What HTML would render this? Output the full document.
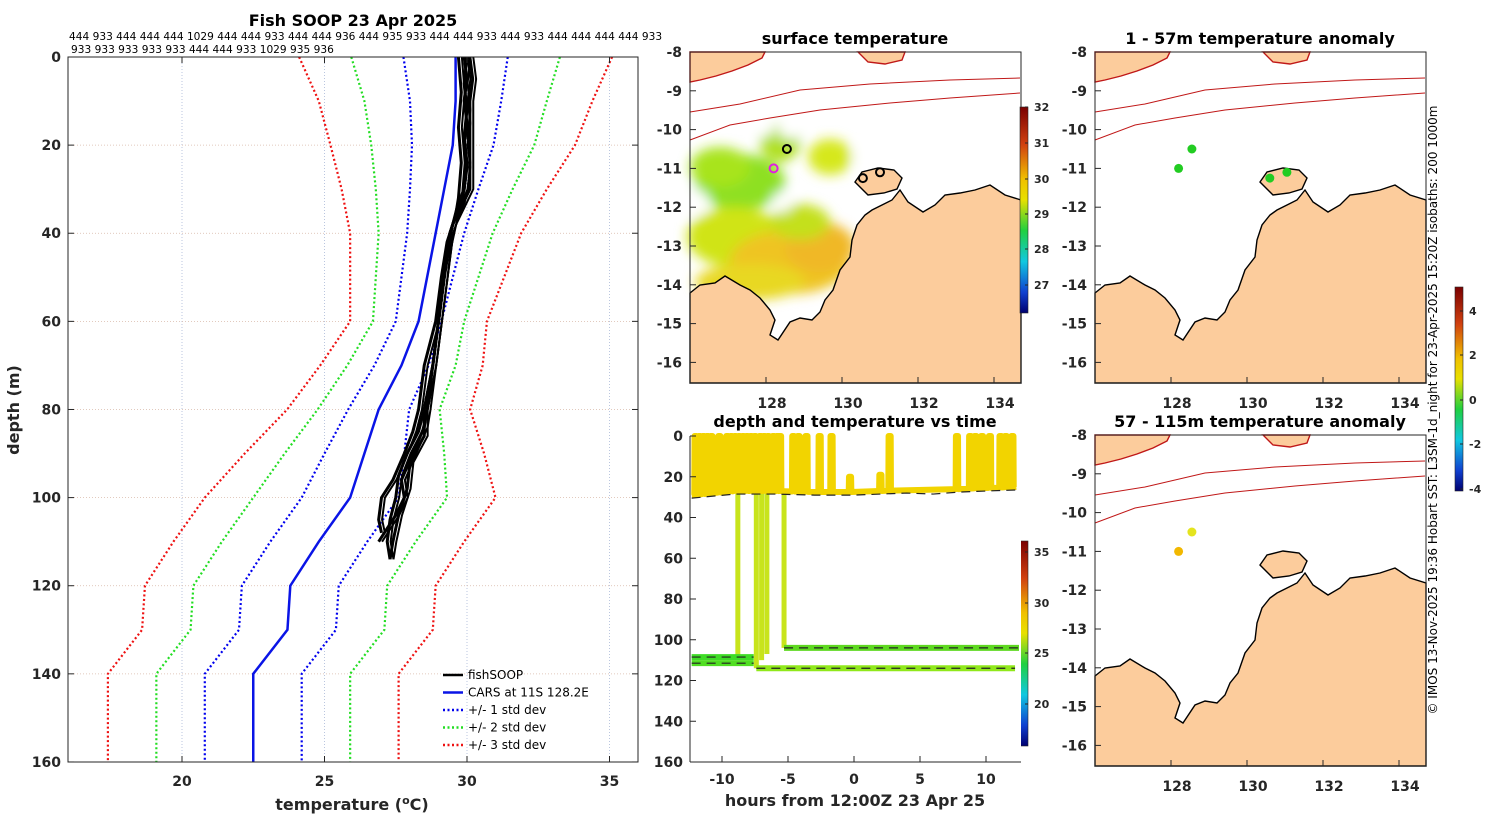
<!DOCTYPE html>
<html><head><meta charset="utf-8">
<style>
html,body{margin:0;padding:0;background:#fff;}
svg{display:block;font-family:"DejaVu Sans","Liberation Sans",sans-serif;}
.tk{font-size:14px;font-weight:bold;fill:#262626;}
.ttl{font-size:16px;font-weight:bold;fill:#000;}
.sm{font-size:11px;fill:#262626;}
</style></head>
<body>
<svg id="s" width="1500" height="820" viewBox="0 0 1500 820" xmlns="http://www.w3.org/2000/svg">
<defs>
<linearGradient id="jet" x1="0" y1="0" x2="0" y2="1">
<stop offset="0" stop-color="#7a0000"/><stop offset="0.18" stop-color="#d04010"/>
<stop offset="0.35" stop-color="#f0c000"/><stop offset="0.45" stop-color="#e8e000"/>
<stop offset="0.6" stop-color="#20d040"/><stop offset="0.75" stop-color="#10c8e0"/>
<stop offset="0.9" stop-color="#1040d0"/><stop offset="1" stop-color="#000070"/>
</linearGradient>
<filter id="bl"><feGaussianBlur stdDeviation="6"/></filter>
</defs>
<g id="root"></g>
</svg>
<script>
// ---------- Profile chart data ----------
const carsDepths=[0,10,20,30,40,50,60,70,80,90,100,110,120,130,140,150,160];
const carsMean=[29.6,29.6,29.5,29.2,28.9,28.6,28.3,27.7,26.9,26.4,25.9,24.8,23.8,23.7,22.5,22.5,22.5];
const carsStd=[1.83,1.6,1.43,1.2,1.0,0.9,0.8,0.95,1.07,1.4,1.7,1.7,1.7,1.7,1.7,1.7,1.7];
const profDepthsA=[0,5,10,15,20,25,30,33,36,40,50,60,70,80,85,90,95,100,105,110,114];
const profTempA=[29.9,30.0,29.9,30.0,29.9,30.0,29.9,29.8,29.6,29.4,29.2,29.0,28.8,28.5,28.3,27.9,27.6,27.5,27.3,27.2,27.3];
const profDepthsB=[0,5,10,20,30,34,38,42,50,60,70,75,80,85,90,96,100,105,108];
const profTempB=[30.1,30.2,30.1,30.1,30.1,29.8,29.5,29.3,29.1,28.9,28.5,28.4,28.3,28.1,27.8,27.4,27.0,26.9,27.0];
const profDepthsC=[0,8,16,24,32,36,40,50,60,70,80,84,90,96,100,104,110];
const profTempC=[29.7,29.8,29.7,29.8,29.7,29.6,29.4,29.2,29.0,28.8,28.6,28.5,28.1,27.7,27.8,27.5,26.9];
const profDepthsD=[0,6,12,18,24,30,33,38,44,50,60,70,80,86,92,98,104,110,114];
const profTempD=[30.0,29.9,30.0,29.9,30.0,29.9,29.7,29.5,29.3,29.2,29.0,28.8,28.5,28.5,28.0,27.9,27.6,27.4,27.3];
const tempTicks=[20,25,30,35];
const depthTicks=[0,20,40,60,80,100,120,140,160];
// ---------- depth-time data ----------
const spikeHours=[-12.0,-11.7,-11.4,-11.1,-10.8,-10.2,-9.6,-9.3,-9.0,-8.7,-8.4,-8.1,-7.8,-7.5,-7.1,-6.8,-6.5,-6.1,-5.8,-5.6,-4.6,-4.2,-3.6,-2.6,-1.7,-0.3,2.0,2.7,7.8,8.8,9.2,9.7,10.3,11.1,11.5,12.0];
const spikeTops=[0,0,0,0,0,0,0,0,0,0,0,0,0,0,0,0,0,0,0,0,0,0,0,0,0,20,19,0,0,0,0,0,0,0,0,0];
const baseHours=[-12.3,-9,-6,-3,0,2,4,6,8,10,12.3];
const baseDepths=[29,27,27,27.5,27.5,27,26.5,27,26,25.5,25];
const castHours=[-8.8,-7.4,-7.0,-6.6,-5.3];
const castBottoms=[108,114,110,107,104];
const deepStart=[-12.3,-12.3,-7.4,-5.3];
const deepEnd=[-7.6,-7.6,12.2,12.5];
const deepDepth=[108.5,111.5,114,104];
const deepColor=["#3edc26","#50de22","#90e81a","#5ed820"];
const hourTicks=[-10,-5,0,5,10];
const tdDepthTicks=[0,20,40,60,80,100,120,140,160];
// ---------- map data ----------
const lonTicks=[128,130,132,134];
const latTicks=[-8,-9,-10,-11,-12,-13,-14,-15,-16];
const sstCircleLon=[128.55,130.55,131.0];
const sstCircleLat=[-10.5,-11.25,-11.1];
const anomLon1=[128.2,128.55,130.6,131.05];
const anomLat1=[-11.0,-10.5,-11.25,-11.1];
const anomVal1=[0.2,0.1,0.3,0.2];
const anomLon2=[128.2,128.55];
const anomLat2=[-11.0,-10.5];
const anomVal2=[1.8,1.2];

const NS="http://www.w3.org/2000/svg";
const root=document.getElementById('root');
function el(tag,attrs,parent){const e=document.createElementNS(NS,tag);for(const k in attrs)e.setAttribute(k,attrs[k]);(parent||root).appendChild(e);return e;}
function txt(x,y,s,cls,anchor,parent){const t=el('text',{x:x,y:y,class:cls,'text-anchor':anchor||'middle'},parent);t.textContent=s;return t;}

// ===== Left profile chart =====
const xT=t=>68+(t-16)*28.5;
const yD=d=>57+d*4.406;
const gL=el('g',{});


tempTicks.forEach(t=>{const l=el('line',{x1:xT(t),x2:xT(t),y1:57,y2:762,stroke:'#aab8d8','stroke-width':0.8,'stroke-dasharray':'1,2'},gL);
});
depthTicks.forEach(d=>{const l=el('line',{x1:68,x2:638,y1:yD(d),y2:yD(d),stroke:'#d8b8a8','stroke-width':0.8,'stroke-dasharray':'1,2'},gL);
});
function poly(xs,ys,fx,fy,attrs,name,parent){const p=el('polyline',Object.assign({points:xs.map((v,i)=>fx(v)+','+fy(ys[i])).join(' '),fill:'none'},attrs),parent);
return p;}
const stdCol={1:'#0000ee',2:'#22dd22',3:'#ee1111'};
[3,2,1].forEach(k=>{[-1,1].forEach(sg=>{
 poly(carsMean.map((m,i)=>m+sg*k*carsStd[i]),carsDepths,xT,yD,{stroke:stdCol[k],'stroke-width':2.2,'stroke-dasharray':'2,2.5'},'std-'+k+(sg<0?'-minus':'-plus'),gL);
});});
poly(carsMean,carsDepths,xT,yD,{stroke:'#0a14e6','stroke-width':2.5},'cars-mean-line',gL);
[[profTempA,profDepthsA],[profTempB,profDepthsB],[profTempC,profDepthsC],[profTempD,profDepthsD]].forEach((p,i)=>{
 poly(p[0],p[1],xT,yD,{stroke:'#000','stroke-width':3},'fishsoop-profile-'+(i+1),gL);
 poly(p[0].map(v=>v+0.12),p[1],xT,yD,{stroke:'#000','stroke-width':2},'fishsoop-profile-'+(i+1)+'-b',gL);
});
const bxL=el('rect',{x:68,y:57,width:570,height:705,fill:'none',stroke:'#262626','stroke-width':1},gL);

tempTicks.forEach(t=>{el('line',{x1:xT(t),x2:xT(t),y1:762,y2:756,stroke:'#262626'},gL);el('line',{x1:xT(t),x2:xT(t),y1:57,y2:63,stroke:'#262626'},gL);
 const tt=txt(xT(t),786,String(t),'tk','middle',gL);});
depthTicks.forEach(d=>{el('line',{x1:68,x2:74,y1:yD(d),y2:yD(d),stroke:'#262626'},gL);el('line',{x1:632,x2:638,y1:yD(d),y2:yD(d),stroke:'#262626'},gL);
 const tt=txt(61,yD(d)+5,String(d),'tk','end',gL);});
</script>
<script>
(function(){
const t1=txt(353,26,'Fish SOOP 23 Apr 2025','ttl');
const h1=txt(69,40,'444 933 444 444 444 1029 444 444 933 444 444 936 444 935 933 444 444 933 444 933 444 444 444 444 933','sm','start');
h1.setAttribute('style','font-size:10.6px;fill:#000');
const h2=txt(71,53,'933 933 933 933 933 444 444 933 1029 935 936','sm','start');
h2.setAttribute('style','font-size:10.6px;fill:#000');
const xl=el('text',{x:352,y:810,class:'tk','text-anchor':'middle',style:'font-size:16px'});xl.innerHTML='temperature (<tspan font-size="11" dy="-6">o</tspan><tspan dy="6">C)</tspan>';

const yl=txt(0,0,'depth (m)','tk');yl.setAttribute('transform','translate(19,410) rotate(-90)');yl.setAttribute('style','font-size:16px');

const lg=el('g',{});
const items=[['fishSOOP','#000',''],['CARS at 11S 128.2E','#0a14e6',''],['+/- 1 std dev','#0000ee','2,2.5'],['+/- 2 std dev','#22dd22','2,2.5'],['+/- 3 std dev','#ee1111','2,2.5']];
items.forEach((it,i)=>{const y=675+i*17.5;const g=el('g',{},lg);
 el('line',{x1:443,x2:463,y1:y,y2:y,stroke:it[1],'stroke-width':2.5,'stroke-dasharray':it[2]||'none'},g);
 const t=txt(468,y+4,it[0],'sm','start',g);t.setAttribute('style','font-size:12px;fill:#000');});
})();
</script>
<script>
// ===== Maps =====
const mX=(lon,ox)=>ox+(lon-126)*38;
const mY=(lat,oy)=>oy+(-8-lat)*38.8;
const land='M0,241 L10,233 25,231 35,224 50,233 60,238 70,246 80,258 85,268 80,283 88,288 100,270 110,266 122,268 130,260 135,248 143,238 150,218 160,205 162,188 167,173 175,163 182,158 192,153 202,148 210,138 218,150 233,160 245,153 255,143 270,141 285,138 300,133 315,143 331,148 331,331 0,331 Z';
const tiwi='M165,130 L172,120 188,116 204,118 212,126 207,137 194,141 178,143 Z';
const timor='M0,0 L75,0 72,6 58,13 42,19 26,24 10,28 0,30 Z';
const isl='M168,0 L215,0 212,8 195,12 178,10 Z';
function drawMap(ox,oy,name,withSST,title){
 const g=el('g',{});
 el('rect',{x:ox,y:oy,width:331,height:331,fill:'#fff'},g);
 if(withSST){
  const sg=el('g',{filter:'url(#bl)'},g);
  [[50,130,45,28,'#8ee024'],[30,115,30,20,'#a8e41e'],[140,105,22,18,'#d6e81a'],[45,185,48,30,'#d0e418'],[100,210,60,32,'#efc424'],[130,195,35,25,'#f0b828'],[60,230,55,18,'#e8d820'],[110,170,30,18,'#c4e01c'],[90,90,20,20,'#b0e020']].forEach(b=>{
   el('ellipse',{cx:ox+b[0],cy:oy+b[1],rx:b[2],ry:b[3],fill:b[4]},sg);});
  [[75,60,12,25],[5,150,14,12],[100,75,12,12],[175,105,12,10],[92,150,10,10],[200,35,20,14]].forEach(b=>{el('ellipse',{cx:ox+b[0],cy:oy+b[1],rx:b[2],ry:b[3],fill:'#fff'},sg);});
 }
 const cp=el('path',{d:'M'+ox+','+(oy+88)+' l40,-15 40,-7 50,-8 70,-7 60,-5 70,-5',fill:'none',stroke:'#c01818','stroke-width':1},g);
 
 const cp2=el('path',{d:'M'+ox+','+(oy+60)+' l50,-8 60,-14 70,-6 80,-4 70,-2',fill:'none',stroke:'#c01818','stroke-width':1},g);
 
 [land,tiwi,timor,isl].forEach((d,i)=>{const p=el('path',{d:d,transform:'translate('+ox+','+oy+')',fill:'#fccc9c',stroke:i==2||i==3?'#c01818':'#000','stroke-width':1.4},g);
  });
 el('rect',{x:ox,y:oy,width:331,height:331,fill:'none',stroke:'#262626'},g);
 lonTicks.forEach(l=>{el('line',{x1:mX(l,ox),x2:mX(l,ox),y1:oy+331,y2:oy+325,stroke:'#262626'},g);
  const t=txt(mX(l,ox)+6,oy+356,String(l),'tk','middle',g);});
 latTicks.forEach(l=>{const y=mY(l,oy);el('line',{x1:ox,x2:ox+6,y1:y,y2:y,stroke:'#262626'},g);
  const t=txt(ox-8,y+5,String(l),'tk','end',g);});
 const tt=txt(ox+165,oy-8,title,'ttl','middle',g);
 return g;
}
const m1=drawMap(690,52,'surface-temperature-map',true,'surface temperature');
sstCircleLon.forEach((lo,i)=>{const c=el('circle',{cx:mX(lo,690),cy:mY(sstCircleLat[i],52),r:4,fill:'none',stroke:'#000','stroke-width':2},m1);
 });
const mc=el('circle',{cx:mX(128.2,690),cy:mY(-11.0,52),r:4,fill:'none',stroke:'#e020e0','stroke-width':2},m1);

function anomColor(v){return v>1.5?'#f2b800':v>0.8?'#e4e41e':'#22cc22';}
const m2=drawMap(1095,52,'anomaly-1-57m-map',false,'1 - 57m temperature anomaly');
anomLon1.forEach((lo,i)=>{const c=el('circle',{cx:mX(lo,1095),cy:mY(anomLat1[i],52),r:4.5,fill:anomColor(anomVal1[i])},m2);
 });
const m3=drawMap(1095,435,'anomaly-57-115m-map',false,'57 - 115m temperature anomaly');
anomLon2.forEach((lo,i)=>{const c=el('circle',{cx:mX(lo,1095),cy:mY(anomLat2[i],435),r:4.5,fill:anomColor(anomVal2[i])},m3);
 });
function cbar(x,y,h,labels,ys,name){const g=el('g',{});
 el('rect',{x:x,y:y,width:8,height:h,fill:'url(#jet)',stroke:'#262626','stroke-width':0.6},g);
 labels.forEach((l,i)=>{el('line',{x1:x+8,x2:x+5,y1:ys[i],y2:ys[i],stroke:'#262626'},g);const t=txt(x+14,ys[i]+4,l,'sm','start',g);t.setAttribute('style','font-size:11px;font-weight:bold;fill:#262626');});}
cbar(1020,107,206,['32','31','30','29','28','27'],[107,143,179,214,249,285],'sst-colorbar');
cbar(1455,287,204,['4','2','0','-2','-4'],[311,355,400,444,489],'anomaly-colorbar');
cbar(1020,541,205,['35','30','25','20'],[552,603,653,704],'td-colorbar');
const rt=txt(0,0,'© IMOS 13-Nov-2025 19:36 Hobart SST: L3SM-1d_night for 23-Apr-2025 15:20Z isobaths: 200  1000m','sm','middle');
rt.setAttribute('transform','translate(1437,410) rotate(-90)');rt.setAttribute('style','font-size:12px;fill:#000');

</script>
<script>
// ===== depth-time chart =====
const xH=h=>854+h*13.2;
const yZ=d=>436+d*2.0375;
function baseAt(h){for(let i=1;i<baseHours.length;i++){if(h<=baseHours[i]){const f=(h-baseHours[i-1])/(baseHours[i]-baseHours[i-1]);return baseDepths[i-1]+f*(baseDepths[i]-baseDepths[i-1]);}}return baseDepths[baseDepths.length-1];}
const gT=el('g',{});
el('rect',{x:690,y:436,width:331,height:326,fill:'#fff'},gT);
castHours.forEach((h,i)=>{const l=el('line',{x1:xH(h),x2:xH(h),y1:yZ(baseAt(h)),y2:yZ(castBottoms[i]),stroke:'#c8e41c','stroke-width':5},gT);
 });
deepStart.forEach((s,i)=>{const l=el('line',{x1:xH(s),x2:xH(deepEnd[i]),y1:yZ(deepDepth[i]),y2:yZ(deepDepth[i]),stroke:deepColor[i],'stroke-width':6},gT);
 
 const d=el('line',{x1:xH(s),x2:xH(deepEnd[i]),y1:yZ(deepDepth[i]),y2:yZ(deepDepth[i]),stroke:'#222','stroke-width':1.2,'stroke-dasharray':'9,6'},gT);
 });
let pts=[[xH(baseHours[0]),yZ(baseDepths[0])]];
spikeHours.forEach((h,i)=>{pts.push([xH(h-0.1),yZ(baseAt(h))]);pts.push([xH(h-0.08),yZ(spikeTops[i])]);pts.push([xH(h+0.08),yZ(spikeTops[i])]);pts.push([xH(h+0.1),yZ(baseAt(h))]);});
pts.push([xH(baseHours[baseHours.length-1]),yZ(baseDepths[baseDepths.length-1])]);
const st=el('polyline',{points:pts.map(p=>p.join(',')).join(' '),fill:'none',stroke:'#f2d400','stroke-width':6,'stroke-linejoin':'round'},gT);

const bd=el('polyline',{points:baseHours.map((h,i)=>xH(h)+','+yZ(baseDepths[i]+1.5)).join(' '),fill:'none',stroke:'#222','stroke-width':1.2,'stroke-dasharray':'9,6'},gT);

el('line',{x1:690,x2:690,y1:436,y2:762,stroke:'#262626'},gT);
el('line',{x1:690,x2:1021,y1:762,y2:762,stroke:'#262626'},gT);
hourTicks.forEach(h=>{el('line',{x1:xH(h),x2:xH(h),y1:762,y2:756,stroke:'#262626'},gT);
 const t=txt(xH(h),784,String(h),'tk','middle',gT);});
tdDepthTicks.forEach(d=>{el('line',{x1:690,x2:696,y1:yZ(d),y2:yZ(d),stroke:'#262626'},gT);
 const t=txt(683,yZ(d)+5,String(d),'tk','end',gT);});
const tt=txt(855,427,'depth and temperature vs time','ttl','middle',gT);
const xl=txt(855,806,'hours from 12:00Z 23 Apr 25','tk','middle',gT);xl.setAttribute('style','font-size:16px');

</script>
</body></html>
